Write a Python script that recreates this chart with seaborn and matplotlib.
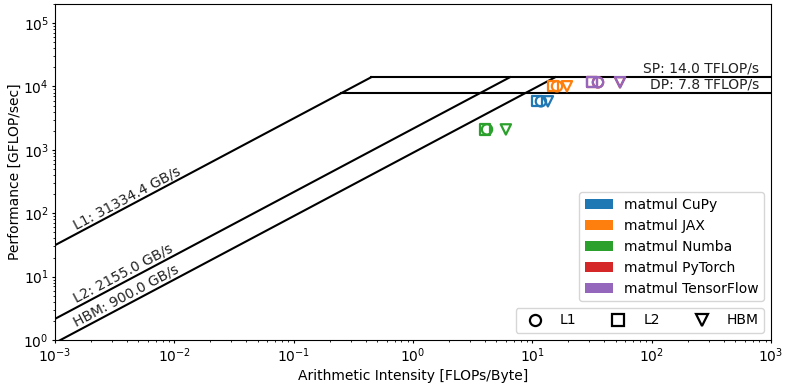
import numpy as np
import pandas as pd
import matplotlib
matplotlib.use("Agg")
import matplotlib.pyplot as plt
from matplotlib.patches import Patch
from matplotlib.lines import Line2D
import seaborn as sns

# ---- data ----
mem_levels = ["L1", "L2", "HBM"]
bandwidths = [31334.4, 2155.0, 900.0]          # GB/s
peak_names = ["SP", "DP"]
peak_values = [14000.0, 7800.0]                 # GFLOP/s

frameworks = ["matmul CuPy", "matmul JAX", "matmul Numba", "matmul PyTorch", "matmul TensorFlow"]
colors = ["#1f77b4", "#ff7f0e", "#2ca02c", "#d62728", "#9467bd"]

# arithmetic intensity per level (L1, L2, HBM) and performance per framework
ai_cupy = [11.8, 10.9, 13.5]
ai_jax = [16.1, 14.9, 19.5]
ai_numba = [4.17, 4.0, 6.0]
ai_pytorch = [35.5, 31.6, 54.3]
ai_tensorflow = [35.5, 31.6, 54.3]
perf = [5830.0, 10070.0, 2100.0, 11650.0, 11650.0]

ai_all = [ai_cupy, ai_jax, ai_numba, ai_pytorch, ai_tensorflow]
marker_map = {"L1": "o", "L2": "s", "HBM": "v"}

rows = []
for fw, ais, p in zip(frameworks, ai_all, perf):
    for lvl, a in zip(mem_levels, ais):
        rows.append({"framework": fw, "level": lvl, "ai": a, "perf": p})
df = pd.DataFrame(rows)

# ---- figure ----
fig = plt.figure(figsize=(7.87, 3.86), dpi=100)
ax = fig.add_axes([55 / 787, 1 - 340 / 386, (771 - 55) / 787, (340 - 4) / 386])
ax.set_xscale("log")
ax.set_yscale("log")
xmin, xmax = 1e-3, 1e3
ax.set_xlim(xmin, xmax)
ax.set_ylim(1, 2e5)

# rooflines: diagonal up to SP peak
sp = max(peak_values)
for bw in bandwidths:
    xe = sp / bw
    seg = pd.DataFrame({"x": [xmin, xe], "y": [bw * xmin, sp]})
    sns.lineplot(data=seg, x="x", y="y", ax=ax, color="black", lw=1.5, estimator=None, sort=False)
# horizontal ceilings starting at L1 ridge
for pk in peak_values:
    xs = pk / bandwidths[0]
    seg = pd.DataFrame({"x": [xs, xmax], "y": [pk, pk]})
    sns.lineplot(data=seg, x="x", y="y", ax=ax, color="black", lw=1.5, estimator=None, sort=False)

# points
for fw, c in zip(frameworks, colors):
    sub = df[df["framework"] == fw]
    sns.scatterplot(data=sub, x="ai", y="perf", style="level", markers=marker_map,
                    style_order=mem_levels, color=c, facecolor="none", edgecolor=c,
                    linewidth=1.6, s=55, ax=ax, legend=False, zorder=3)

# labels
fig.canvas.draw()
p0 = ax.transData.transform((1e-2, 1.0))
p1 = ax.transData.transform((1e-1, 10.0))
ang = np.degrees(np.arctan2(p1[1] - p0[1], p1[0] - p0[0]))
for lvl, bw in zip(mem_levels, bandwidths):
    xl = 1.55e-3
    ax.text(xl, bw * xl * 1.04, f"{lvl}: {bw:.1f} GB/s", rotation=ang, rotation_mode="anchor",
            ha="left", va="bottom", fontsize=10, color="#222222")
for nm, pk in zip(peak_names, peak_values):
    ax.text(800, pk * 1.08, f"{nm}: {pk / 1000:.1f} TFLOP/s", ha="right", va="bottom",
            fontsize=10, color="#222222")

ax.set_xlabel("Arithmetic Intensity [FLOPs/Byte]", fontsize=10, labelpad=3)
ax.set_ylabel("Performance [GFLOP/sec]", fontsize=10, labelpad=1)
ax.tick_params(which="major", labelsize=10, length=2.5, pad=2)
ax.tick_params(which="minor", length=1.5)

# legends
h1 = [Patch(facecolor=c, label=fw) for fw, c in zip(frameworks, colors)]
leg1 = ax.legend(handles=h1, loc="lower right", bbox_to_anchor=(1.0, 0.095), fontsize=10)
ax.add_artist(leg1)
h2 = [Line2D([], [], ls="none", marker=marker_map[l], markerfacecolor="none",
             markeredgecolor="black", markeredgewidth=1.6, markersize=8, label=l) for l in mem_levels]
ax.legend(handles=h2, loc="lower right", ncol=3, fontsize=10)

fig.savefig("out.png", dpi=100)
